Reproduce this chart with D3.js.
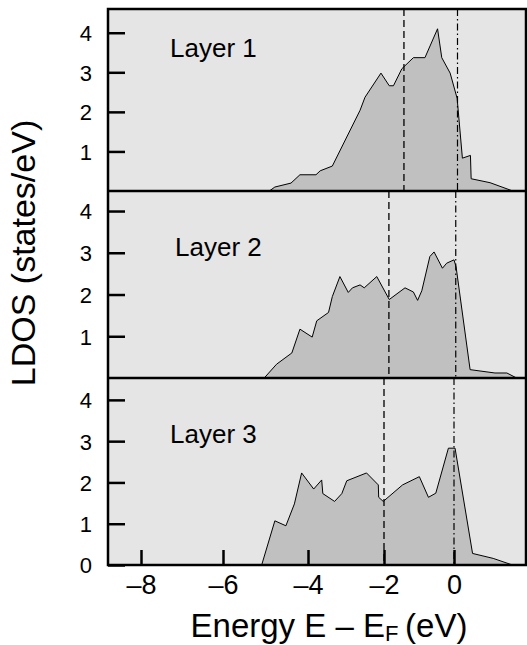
<!DOCTYPE html>
<html>
<head>
<meta charset="utf-8">
<script src="https://cdn.jsdelivr.net/npm/d3@7"></script>
<style>
  body { margin: 0; background: #fff; }
  svg text { font-family: "Liberation Sans", Arial, Helvetica, sans-serif; fill: #000; }
</style>
</head>
<body>
<div id="chart"></div>
<script>
// values: [energy (eV), LDOS (states/eV)]
var layerNames = ["Layer 1", "Layer 2", "Layer 3"];
var layer1 = [[-4.91,0],[-4.78,0.10],[-4.40,0.20],[-4.19,0.41],[-3.79,0.41],[-3.68,0.51],[-3.36,0.63],
  [-2.63,2.04],[-2.50,2.37],[-2.08,2.98],[-1.85,2.66],[-1.73,2.66],[-1.49,3.09],[-1.16,3.37],
  [-0.83,3.37],[-0.47,4.10],[-0.35,3.37],[-0.11,2.98],[0.09,2.34],[0.24,0.83],[0.47,0.90],
  [0.49,0.31],[1.03,0.21],[1.68,0]];
var layer2 = [[-5.03,0],[-4.74,0.33],[-4.38,0.60],[-4.19,1.17],[-3.89,0.98],[-3.77,1.37],[-3.46,1.57],
  [-3.36,1.95],[-3.16,2.43],[-2.94,2.05],[-2.83,2.16],[-2.63,2.23],[-2.52,2.16],[-2.19,2.43],
  [-1.85,1.88],[-1.40,2.16],[-1.16,2.06],[-1.04,1.86],[-0.92,2.09],[-0.69,2.91],[-0.57,3.02],
  [-0.33,2.63],[-0.21,2.75],[0.0,2.83],[0.06,2.66],[0.46,0.20],[1.17,0.12],[1.51,0.12],[1.79,0]];
var layer3 = [[-5.09,0],[-4.78,1.07],[-4.52,0.95],[-4.32,1.48],[-4.15,2.23],[-3.85,1.84],[-3.64,2.06],
  [-3.61,1.73],[-3.30,1.54],[-3.11,1.73],[-2.98,2.04],[-2.46,2.23],[-2.15,1.94],[-2.14,1.64],
  [-2.02,1.54],[-1.47,1.94],[-0.99,2.14],[-0.73,1.64],[-0.52,1.74],[-0.16,2.83],[0.03,2.83],
  [0.53,0.28],[1.12,0.16],[1.67,0]];
var dashedAt = [-1.43, -1.86, -2.0];
var dashDotAt = [0.1, 0.05, 0.0];
var xTicks = [-8, -6, -4, -2, 0];
var yTicks = [1, 2, 3, 4];

var width = 527, height = 645;
var left = 108, right = 526;
// panel boxes and their y ranges
var panels = [
  {top: 9, bottom: 191, ymax: 4.6, labelX: 170, labelY: 57},
  {top: 191, bottom: 378, ymax: 4.48, labelX: 175, labelY: 256},
  {top: 378, bottom: 565, ymax: 4.53, labelX: 170, labelY: 443}
];
var layers = [layer1, layer2, layer3];

// the printed axis is not evenly spaced, so map each tick to where it sits
var x = d3.scaleLinear().domain(xTicks).range([141, 223, 308, 384, 454]);

var svg = d3.select('#chart').append('svg').attr('width', width).attr('height', height);

svg.append('defs').append('clipPath').attr('id', 'plotclip')
  .append('rect').attr('x', left).attr('y', panels[0].top)
  .attr('width', right - left).attr('height', panels[2].bottom - panels[0].top);

panels.forEach(function(p, i) {
  var y = d3.scaleLinear().domain([0, p.ymax]).range([p.bottom, p.top]);
  var g = svg.append('g').attr('class', 'panel');

  g.append('rect').attr('x', left).attr('y', p.top)
    .attr('width', right - left).attr('height', p.bottom - p.top)
    .attr('fill', '#e5e5e5');

  var area = d3.area().x(function(d) { return x(d[0]); })
    .y0(y(0)).y1(function(d) { return y(d[1]); });
  g.append('path').datum(layers[i]).attr('d', area)
    .attr('fill', '#c0c0c0').attr('stroke', '#000').attr('stroke-width', 1)
    .attr('clip-path', 'url(#plotclip)');

  g.append('line').attr('x1', x(dashedAt[i])).attr('x2', x(dashedAt[i]))
    .attr('y1', p.top).attr('y2', p.bottom)
    .attr('stroke', '#000').attr('stroke-width', 1.3).attr('stroke-dasharray', '7,4');
  g.append('line').attr('x1', x(dashDotAt[i])).attr('x2', x(dashDotAt[i]))
    .attr('y1', p.top).attr('y2', p.bottom)
    .attr('stroke', '#000').attr('stroke-width', 1.2).attr('stroke-dasharray', '7,3,1.5,3');

  // y axis, ticks pointing inward
  var yAxis = d3.axisLeft(y).tickValues(i === 2 ? [0].concat(yTicks) : yTicks)
    .tickFormat(d3.format('d'))
    .tickSizeInner(-17).tickSizeOuter(0).tickPadding(16);
  var ya = g.append('g').attr('transform', 'translate(' + left + ',0)').call(yAxis);
  ya.select('.domain').remove();
  ya.selectAll('.tick line').attr('stroke-width', 2.5);
  ya.selectAll('.tick text').style('font-size', '22px').attr('dy', '0.36em');

  g.append('text').attr('x', p.labelX).attr('y', p.labelY)
    .style('font-size', '26px').text(layerNames[i]);
});

// x axis on the bottom panel
var xAxis = d3.axisBottom(x).tickValues(xTicks)
  .tickFormat(function(d) { return d < 0 ? '\u2013' + Math.abs(d) : d; })
  .tickSizeInner(-15).tickSizeOuter(0).tickPadding(10);
var xa = svg.append('g').attr('transform', 'translate(0,' + panels[2].bottom + ')').call(xAxis);
xa.select('.domain').remove();
xa.selectAll('.tick line').attr('stroke-width', 2.5);
xa.selectAll('.tick text').style('font-size', '27px');

// frame and separators
svg.append('rect').attr('x', left).attr('y', panels[0].top)
  .attr('width', right - left).attr('height', panels[2].bottom - panels[0].top)
  .attr('fill', 'none').attr('stroke', '#000').attr('stroke-width', 2.5);
[panels[0].bottom, panels[1].bottom].forEach(function(yy) {
  svg.append('line').attr('x1', left).attr('x2', right).attr('y1', yy).attr('y2', yy)
    .attr('stroke', '#000').attr('stroke-width', 2.5);
});

// axis titles
var xt = svg.append('text').attr('x', 329).attr('y', 637).attr('text-anchor', 'middle')
  .style('font-size', '33px');
xt.append('tspan').text('Energy E \u2013 E');
xt.append('tspan').attr('dy', 4).style('font-size', '22px').text('F');
xt.append('tspan').attr('dy', -4).text('\u2009(eV)');

svg.append('text').attr('transform', 'translate(35,253) rotate(-90)')
  .attr('text-anchor', 'middle').style('font-size', '34px').text('LDOS (states/eV)');
</script>
</body>
</html>
